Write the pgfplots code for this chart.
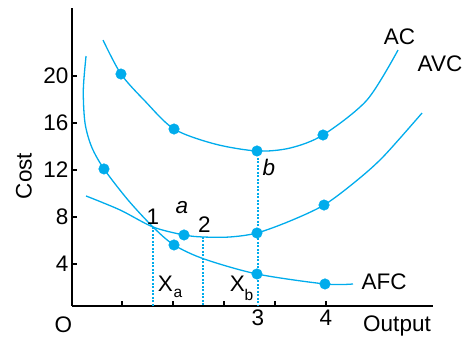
\documentclass[border=0pt]{standalone}
\usepackage{fontspec}
\setmainfont{Liberation Sans}
\usepackage{pgfplots}
\pgfplotsset{compat=1.18}
\definecolor{cb}{RGB}{0,172,236}
\newcommand\fs{\fontsize{22.5}{26}\selectfont}
\newcommand\fss{\fontsize{15.5}{18}\selectfont}
\begin{document}
\begin{tikzpicture}
\path[use as bounding box] (-72pt,-31pt) rectangle (399pt,306pt);
\begin{axis}[
 at={(0,0)}, anchor=south west,
 scale only axis, width=361pt, height=298pt,
 xmin=0.2647, xmax=5.5735, ymin=0.4255, ymax=25.79,
 axis lines=left, axis line style={-, line width=1.2pt, black},
 tick align=inside, major tick length=5pt, tick style={black, line width=1.1pt},
 xtick={1,1.75,2.5,3.25,4}, xticklabels={,,,,4},
 extra x ticks={3}, extra x tick labels={3}, extra x tick style={major tick length=0pt},
 ytick={4,8,12,16,20},
 ticklabel style={font=\fs}, /pgf/number format/assume math mode=true,
 clip=false,
]
% AC
\addplot[cb, line width=1.3pt, smooth] coordinates {
(0.721,23.06)(0.985,20.17)(1.338,17.87)(1.765,15.49)(2.368,14.21)(2.985,13.62)(3.471,13.87)(3.956,14.98)(4.603,17.96)(5.059,22.21)};
% AVC
\addplot[cb, line width=1.3pt, smooth] coordinates {
(0.471,9.79)(0.971,8.60)(1.456,7.15)(1.912,6.47)(2.191,6.30)(2.588,6.30)(2.985,6.64)(3.471,7.66)(3.971,9.02)(4.426,10.98)(4.838,13.11)(5.412,16.85)};
% AFC
\addplot[cb, line width=1.3pt, smooth] coordinates {
(0.471,21.70)(0.431,18.81)(0.456,16.0)(0.554,13.96)(0.735,12.09)(1.088,9.45)(1.456,7.15)(1.765,5.62)(2.206,4.43)(2.985,3.15)(3.985,2.30)(4.397,2.30)};
% dotted drop lines
\addplot[cb, line width=1.2pt, dash pattern=on 2pt off 1.5pt] coordinates {(1.456,7.15)(1.456,0.4255)};
\addplot[cb, line width=1.2pt, dash pattern=on 2pt off 1.5pt] coordinates {(2.191,6.30)(2.191,0.4255)};
\addplot[cb, line width=1.2pt, dash pattern=on 2pt off 1.5pt] coordinates {(3.0,13.62)(3.0,0.4255)};
% dots
\addplot[only marks, mark=*, mark size=5.3pt, cb, mark options={draw=cb, fill=cb}] coordinates {
(0.985,20.17)(1.765,15.49)(2.985,13.62)(3.956,14.98)};
\addplot[only marks, mark=*, mark size=5.3pt, cb, mark options={draw=cb, fill=cb}] coordinates {
(1.912,6.47)(2.985,6.64)(3.971,9.02)};
\addplot[only marks, mark=*, mark size=5.3pt, cb, mark options={draw=cb, fill=cb}] coordinates {
(0.735,12.09)(1.765,5.62)(2.985,3.15)(3.985,2.30)};
\end{axis}
\node[font=\fs] at (81pt,89pt) {1};
\node[font=\fs\itshape] at (110pt,98pt) {a};
\node[font=\fs] at (132.5pt,81pt) {2};
\node[font=\fs\itshape] at (197pt,139pt) {b};
\node[font=\fs] at (93.5pt,22.5pt) {X};
\node[font=\fss] at (106pt,13pt) {a};
\node[font=\fs] at (165.5pt,22.5pt) {X};
\node[font=\fss] at (177pt,11.5pt) {b};
\node[font=\fs] at (327.5pt,269.5pt) {AC};
\node[font=\fs] at (368pt,242pt) {AVC};
\node[font=\fs] at (312pt,24.5pt) {AFC};
\node[font=\fs, rotate=90] at (-48pt,130pt) {Cost};
\node[font=\fs, anchor=base] at (-8.5pt,-27pt) {O};
\node[font=\fs, anchor=base] at (325pt,-26pt) {Output};
\end{tikzpicture}
\end{document}
